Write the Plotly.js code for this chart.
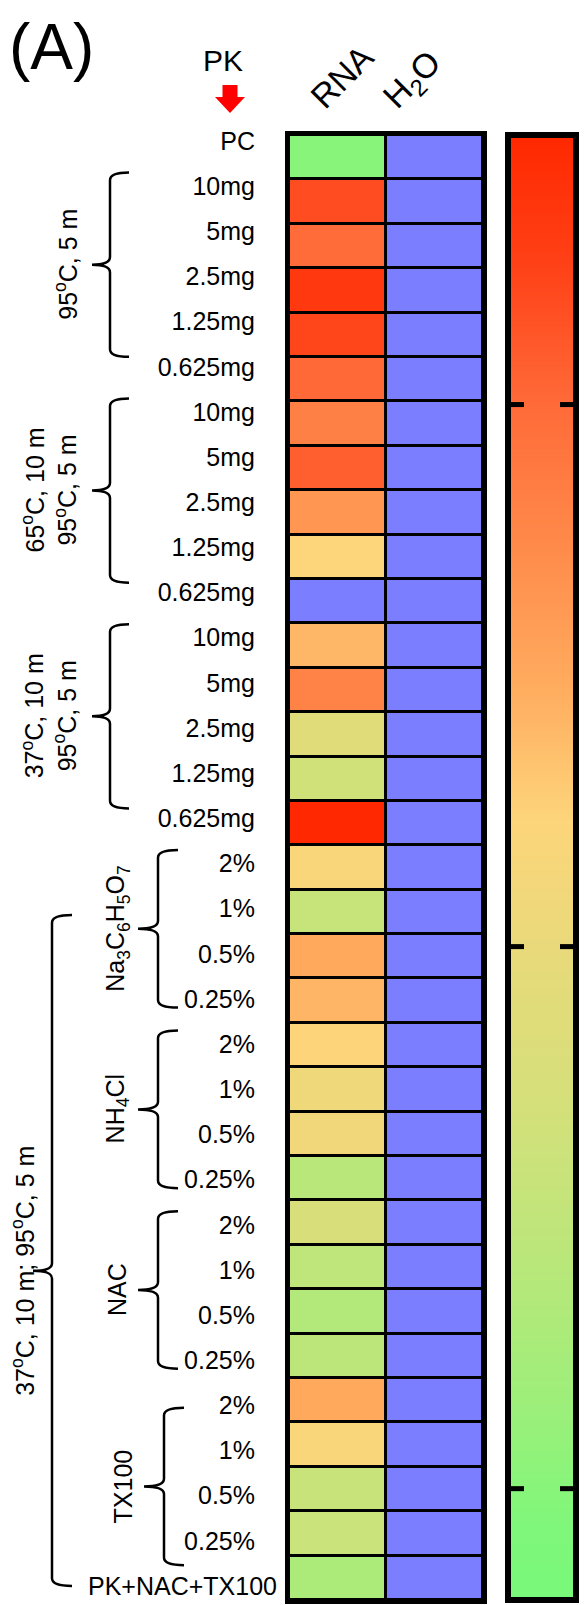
<!DOCTYPE html>
<html><head><meta charset="utf-8">
<script src="https://cdn.plot.ly/plotly-3.0.1.min.js"></script>
<style>html,body{margin:0;padding:0;background:#fff}#chart{width:584px;height:1605px}</style>
</head><body><div id="chart"></div>
<script>
// ---- data ----
const columns = ['RNA', 'H<sub>2</sub>O'];
const rowLabels = ['PC',
  '10mg','5mg','2.5mg','1.25mg','0.625mg',
  '10mg','5mg','2.5mg','1.25mg','0.625mg',
  '10mg','5mg','2.5mg','1.25mg','0.625mg',
  '2%','1%','0.5%','0.25%',
  '2%','1%','0.5%','0.25%',
  '2%','1%','0.5%','0.25%',
  '2%','1%','0.5%','0.25%',
  'PK+NAC+TX100'];
// relative signal (0 = low/green, 1 = high/red); null = not detected (blue)
const rnaSignal = [0.075,
  0.884, 0.815, 0.943, 0.903, 0.82,
  0.751, 0.846, 0.686, 0.53, null,
  0.598, 0.745, 0.406, 0.32, 1.0,
  0.519, 0.28, 0.63, 0.60,
  0.535, 0.47, 0.485, 0.23,
  0.357, 0.248, 0.21, 0.244,
  0.632, 0.52, 0.284, 0.295,
  0.185];
const h2oSignal = [null,
  null, null, null, null, null,
  null, null, null, null, null,
  null, null, null, null, null,
  null, null, null, null,
  null, null, null, null,
  null, null, null, null,
  null, null, null, null,
  null];
const colorbarTicks = [0.076, 0.446, 0.816];
const groups = [
  {text: '95<sup>o</sup>C, 5 m', first: 1, last: 5, level: 'mg', lines: 1},
  {text: '65<sup>o</sup>C, 10 m<br>95<sup>o</sup>C, 5 m', first: 6, last: 10, level: 'mg', lines: 2},
  {text: '37<sup>o</sup>C, 10 m<br>95<sup>o</sup>C, 5 m', first: 11, last: 15, level: 'mg', lines: 2},
  {text: 'Na<sub>3</sub>C<sub>6</sub>H<sub>5</sub>O<sub>7</sub>', first: 16, last: 19, level: 'pct', lines: 1},
  {text: 'NH<sub>4</sub>Cl', first: 20, last: 23, level: 'pct', lines: 1},
  {text: 'NAC', first: 24, last: 27, level: 'pct', lines: 1},
  {text: 'TX100', first: 28, last: 31, level: 'pct', lines: 1, shift: 0.35, dx: 6},
  {text: '37<sup>o</sup>C, 10 m; 95<sup>o</sup>C, 5 m', first: 16, last: 32, level: 'outer', lines: 1, tipShift: 0.45}
];

// ---- styles ----
const FONT = 'Arial, "Liberation Sans", Helvetica, sans-serif';
const LABEL_SIZE = 25;
const levelStyle = {
  mg:    {tip: -197, stem: -179, end: -160, top: -0.3, bottom: -0.22, textX: [-223, -240]},
  pct:   {tip: -151, stem: -131, end: -111, top: -0.3, bottom: 0.19, textX: [-172, -172]},
  outer: {tip: -256, stem: -237, end: -217, top: 1.14, bottom: 0.0, textX: [-266, -266]}
};
const plotW = 290;              // plot area width (heatmap + colour bar)
const heatW = 194;
const cbLeft = 219, cbRight = 287, tickLen = 16;

const idx = rowLabels.map((_, i) => i);
const zMain = idx.map(i => [rnaSignal[i], h2oSignal[i]]);
const zND = idx.map(i => [rnaSignal[i] === null ? 1 : null, h2oSignal[i] === null ? 1 : null]);

const colorscale = [
  [0.0, '#78f87a'], [0.05, '#7ff77a'], [0.144, '#a0ee7a'], [0.24, '#bce67a'],
  [0.336, '#d4e07a'], [0.433, '#e6da7a'], [0.532, '#fdd57a'], [0.625, '#ffab5e'],
  [0.721, '#ff8a4a'], [0.818, '#ff6a38'], [0.914, '#ff4016'], [1.0, '#ff2800']
];
const stops = colorscale.map(s => s[0]);

const traces = [
  {type: 'heatmap', x: [0, 1], y: idx, z: zMain, zmin: 0, zmax: 1, colorscale: colorscale,
   xgap: 3, ygap: 3, hoverinfo: 'skip', showscale: false},
  {type: 'heatmap', x: [0, 1], y: idx, z: zND, zmin: 0, zmax: 1,
   colorscale: [[0, '#7a7eff'], [1, '#7a7eff']], xgap: 3, ygap: 3, showscale: false, hoverinfo: 'skip'},
  {type: 'scatter', x: [], y: [], yaxis: 'y2', showlegend: false, hoverinfo: 'skip'},
  // colour scale bar
  {type: 'heatmap', xaxis: 'x2', yaxis: 'y3', x: [0, 1], y: stops, z: stops.map(s => [s, s]),
   zmin: 0, zmax: 1, colorscale: colorscale, zsmooth: 'best', showscale: false, hoverinfo: 'skip'}
];

const shapes = [];
const annotations = [];
groups.forEach(g => {
  const s = levelStyle[g.level];
  const sh = g.shift || 0, dx = g.dx || 0;
  const top = g.first + s.top + sh, bot = g.last + s.bottom + sh;
  const mid = (top + bot) / 2 + (g.tipShift || 0), r = 0.17;
  const xe = s.end + dx, xs = s.stem + dx, xt = s.tip + dx;
  const path = `M ${xe},${top} Q ${xs},${top} ${xs},${top + r} L ${xs},${mid - r} ` +
    `Q ${xs},${mid} ${xt},${mid} Q ${xs},${mid} ${xs},${mid + r} ` +
    `L ${xs},${bot - r} Q ${xs},${bot} ${xe},${bot}`;
  shapes.push({type: 'path', xref: 'paper', xsizemode: 'pixel', xanchor: 0, yref: 'y2', path: path,
    line: {color: '#000', width: 2.5}});
  annotations.push({text: g.text, xref: 'paper', x: 0, xshift: s.textX[g.lines - 1] + dx, xanchor: 'center',
    yref: 'y2', y: mid, yanchor: 'middle', textangle: -90, showarrow: false,
    font: {family: FONT, size: LABEL_SIZE, color: '#000'}});
});
// colour bar frame and tick marks
shapes.push({type: 'rect', xref: 'x2 domain', yref: 'y3 domain', x0: 0, x1: 1, y0: 0, y1: 1,
  line: {color: '#000', width: 6}});
const tickFrac = tickLen / (cbRight - cbLeft);
colorbarTicks.forEach(v => {
  shapes.push({type: 'line', xref: 'x2 domain', yref: 'y3', x0: 0, x1: tickFrac, y0: v, y1: v,
    line: {color: '#000', width: 5}});
  shapes.push({type: 'line', xref: 'x2 domain', yref: 'y3', x0: 1 - tickFrac, x1: 1, y0: v, y1: v,
    line: {color: '#000', width: 5}});
});
// red arrow under "PK"
shapes.push({type: 'path', xref: 'paper', xsizemode: 'pixel', xanchor: 0, yref: 'paper', ysizemode: 'pixel', yanchor: 1,
  path: 'M -66.5,50 L -51.5,50 L -51.5,38 L -44,38 L -59,22 L -74,38 L -66.5,38 Z',
  fillcolor: '#ff0000', line: {width: 0}});

annotations.push(
  {text: '(A)', xref: 'paper', x: 0, xshift: -238, yref: 'paper', y: 1, yshift: 88, xanchor: 'center', yanchor: 'middle',
   showarrow: false, font: {family: FONT, size: 64, color: '#000'}},
  {text: 'PK', xref: 'paper', x: 0, xshift: -66, yref: 'paper', y: 1, yshift: 75, xanchor: 'center', yanchor: 'middle',
   showarrow: false, font: {family: FONT, size: 30, color: '#000'}},
  {text: columns[0], xref: 'x', x: 0, xshift: 4, yref: 'paper', y: 1, yshift: 58, xanchor: 'center', yanchor: 'middle',
   textangle: -45, showarrow: false, font: {family: FONT, size: 34, color: '#000'}},
  {text: columns[1], xref: 'x', x: 1, xshift: -22, yref: 'paper', y: 1, yshift: 54, xanchor: 'center', yanchor: 'middle',
   textangle: -45, showarrow: false, font: {family: FONT, size: 34, color: '#000'}},
  {text: rowLabels[rowLabels.length - 1], xref: 'paper', x: 0, xshift: -10, xanchor: 'right',
   yref: 'y2', y: rowLabels.length - 1, yanchor: 'middle', showarrow: false,
   font: {family: FONT, size: LABEL_SIZE, color: '#000'}}
);

const layout = {
  width: 584, height: 1605,
  margin: {l: 289, r: 5, t: 135, b: 5, pad: 0, autoexpand: false},
  paper_bgcolor: '#fff', plot_bgcolor: '#000', showlegend: false,
  font: {family: FONT, color: '#000'},
  xaxis: {domain: [0, heatW / plotW], range: [-0.5, 1.5], showticklabels: false, ticks: '', showgrid: false,
    zeroline: false, showline: true, mirror: true, linewidth: 4, linecolor: '#000'},
  yaxis: {range: [32.5, -0.5], showticklabels: false, ticks: '', showgrid: false, zeroline: false,
    showline: true, mirror: true, linewidth: 4, linecolor: '#000'},
  yaxis2: {overlaying: 'y', anchor: 'x', side: 'left', range: [32.31, -0.133], tickmode: 'array', tickvals: idx,
    ticktext: rowLabels.map((t, i) => i === rowLabels.length - 1 ? '' : t),
    ticks: 'outside', ticklen: 28, tickcolor: 'rgba(0,0,0,0)', showgrid: false, zeroline: false, showline: false,
    tickfont: {family: FONT, size: LABEL_SIZE, color: '#000'}},
  xaxis2: {domain: [cbLeft / plotW, cbRight / plotW], anchor: 'y3', range: [0, 1], visible: false},
  yaxis3: {domain: [0, 1], anchor: 'x2', range: [0, 1], visible: false},
  shapes: shapes,
  annotations: annotations
};
Plotly.newPlot('chart', traces, layout, {staticPlot: true, displayModeBar: false});
</script></body></html>
